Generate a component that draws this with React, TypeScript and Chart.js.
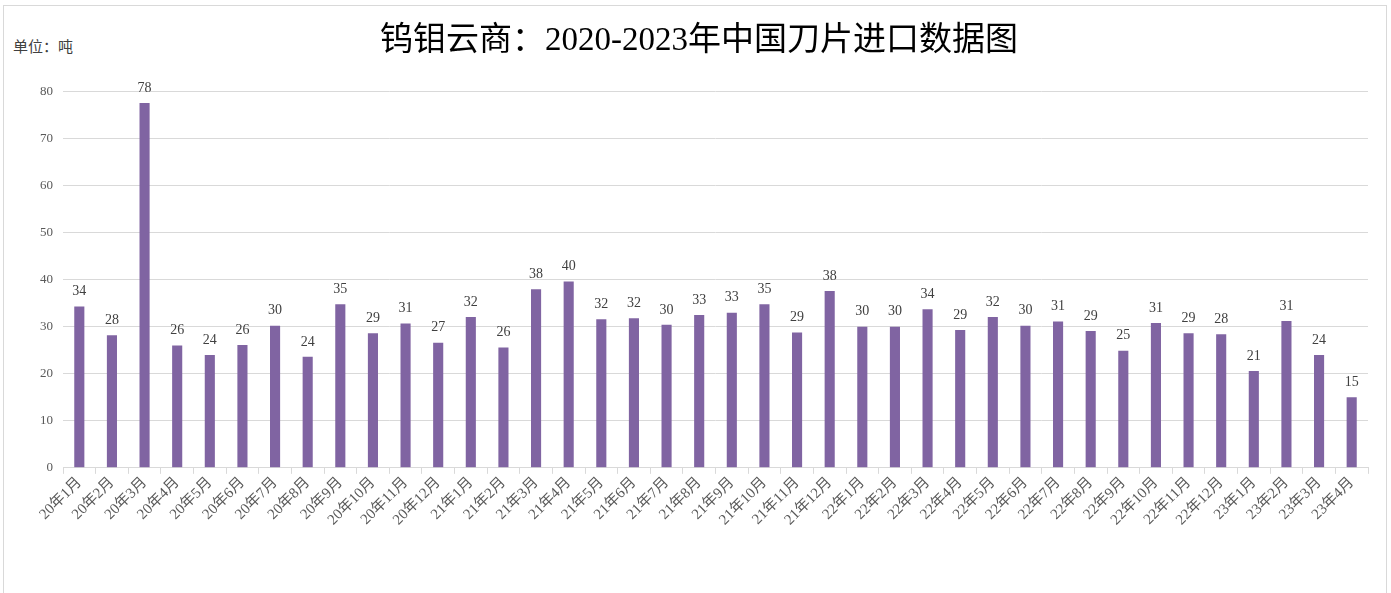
import React, { useEffect, useRef } from "react";
import { Chart, registerables } from "chart.js";

Chart.register(...registerables);

const TITLE = "钨钼云商：2020-2023年中国刀片进口数据图";
const UNIT = "单位：吨";

const categories: string[] = [
  "20年1月", "20年2月", "20年3月", "20年4月", "20年5月", "20年6月", "20年7月", "20年8月", "20年9月", "20年10月", "20年11月", "20年12月",
  "21年1月", "21年2月", "21年3月", "21年4月", "21年5月", "21年6月", "21年7月", "21年8月", "21年9月", "21年10月", "21年11月", "21年12月",
  "22年1月", "22年2月", "22年3月", "22年4月", "22年5月", "22年6月", "22年7月", "22年8月", "22年9月", "22年10月", "22年11月", "22年12月",
  "23年1月", "23年2月", "23年3月", "23年4月",
];

const imports: number[] = [
  34.3, 28.2, 77.6, 26.0, 24.0, 26.1, 30.2, 23.6, 34.8, 28.6, 30.7, 26.6,
  32.1, 25.6, 38.0, 39.6, 31.6, 31.8, 30.4, 32.5, 33.0, 34.8, 28.8, 37.6,
  30.0, 30.0, 33.7, 29.3, 32.1, 30.2, 31.1, 29.1, 24.9, 30.8, 28.6, 28.4,
  20.6, 31.2, 24.0, 15.0,
];

const yTicks: number[] = [0, 10, 20, 30, 40, 50, 60, 70, 80];

const FONT = "'Liberation Serif', 'Noto Sans CJK SC', serif";

const labelPlugin = {
  id: "barValueLabels",
  afterDatasetsDraw(chart: any) {
    const ctx = chart.ctx;
    const meta = chart.getDatasetMeta(0);
    ctx.save();
    ctx.font = `14px ${FONT}`;
    ctx.fillStyle = "#404040";
    ctx.textAlign = "center";
    ctx.textBaseline = "bottom";
    meta.data.forEach((bar: any, i: number) => {
      const v = imports[i];
      ctx.fillText(String(Math.round(v)), bar.x, bar.y - 8);
    });
    ctx.restore();
  },
};

export default function App() {
  const canvasRef = useRef<HTMLCanvasElement | null>(null);

  useEffect(() => {
    if (!canvasRef.current) return;
    const chart = new Chart(canvasRef.current, {
      type: "bar",
      data: {
        labels: categories,
        datasets: [
          {
            data: imports,
            backgroundColor: "#8064A2",
            barPercentage: 0.62,
            categoryPercentage: 0.5,
          },
        ],
      },
      options: {
        animation: false,
        responsive: false,
        maintainAspectRatio: false,
        layout: { padding: { left: 30, right: 23, top: 0, bottom: 64 } },
        plugins: {
          legend: { display: false },
          tooltip: { enabled: false },
          title: {
            display: true,
            text: TITLE,
            color: "#000000",
            font: { size: 33, family: FONT, weight: "normal" },
            padding: { top: 22, bottom: 30 },
          },
        },
        scales: {
          x: {
            grid: {
              display: true,
              drawOnChartArea: false,
              drawTicks: true,
              tickLength: 6,
              color: "#d9d9d9",
              offset: true,
            },
            border: { display: true, color: "#d9d9d9" },
            ticks: {
              color: "#595959",
              font: { size: 15, family: FONT },
              minRotation: 45,
              maxRotation: 45,
              autoSkip: false,
              padding: 0,
            },
          },
          y: {
            min: 0,
            max: 80,
            afterBuildTicks: (axis: any) => {
              axis.ticks = yTicks.map((v) => ({ value: v }));
            },
            grid: { color: "#d9d9d9", drawTicks: false },
            border: { display: false },
            ticks: {
              color: "#595959",
              font: { size: 13, family: FONT },
              padding: 10,
            },
          },
        },
      },
      plugins: [labelPlugin],
    });
    return () => chart.destroy();
  }, []);

  return (
    <div style={{ position: "fixed", left: 0, top: 0, width: 1391, height: 593, background: "#fff", overflow: "hidden" }}>
      <div
        style={{
          position: "absolute",
          left: 3,
          top: 5,
          width: 1384,
          height: 620,
          border: "1px solid #d9d9d9",
          boxSizing: "border-box",
        }}
      />
      <div
        style={{
          position: "absolute",
          left: 13,
          top: 35,
          fontSize: 15,
          fontFamily: FONT,
          color: "#404040",
        }}
      >
        {UNIT}
      </div>
      <canvas ref={canvasRef} width={1391} height={593} style={{ position: "absolute", left: 0, top: 0 }} />
    </div>
  );
}
